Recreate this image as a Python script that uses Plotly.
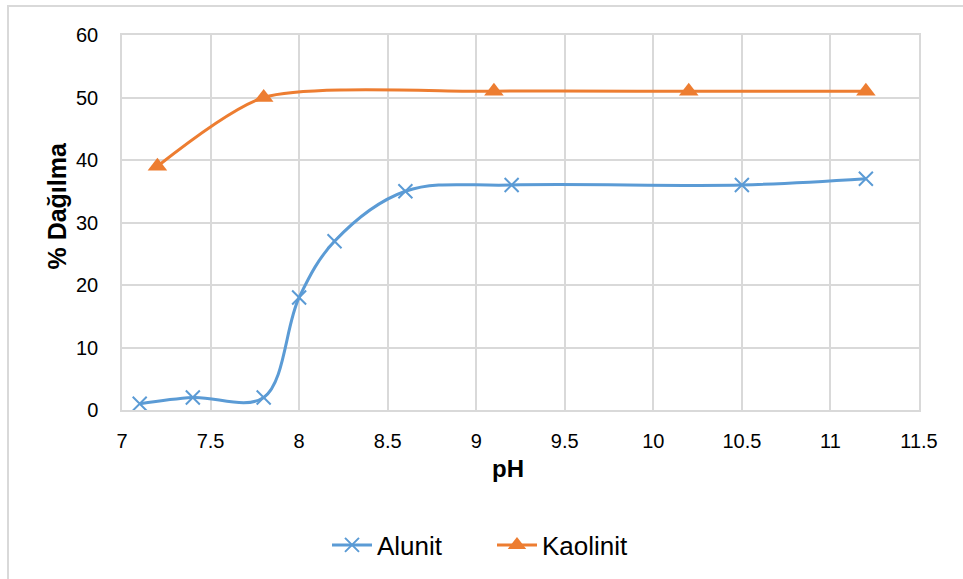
import plotly.graph_objects as go

# pH values and dispersion percentages for each mineral
alunit_ph = [7.1, 7.4, 7.8, 8.0, 8.2, 8.6, 9.2, 10.5, 11.2]
alunit_pct = [1, 2, 2, 18, 27, 35, 36, 36, 37]

kaolinit_ph = [7.2, 7.8, 9.1, 10.2, 11.2]
kaolinit_pct = [39, 50, 51, 51, 51]

x_ticks = [7, 7.5, 8, 8.5, 9, 9.5, 10, 10.5, 11, 11.5]
y_ticks = [0, 10, 20, 30, 40, 50, 60]

BLUE = "#5B9BD5"
ORANGE = "#ED7D31"
GRID = "#D9D9D9"
FONT = "Liberation Sans, Arial, sans-serif"

fig = go.Figure()
fig.add_trace(go.Scatter(
    x=alunit_ph, y=alunit_pct, name="Alunit",
    mode="lines+markers",
    line=dict(color=BLUE, width=3, shape="spline", smoothing=1.0),
    marker=dict(symbol="x-thin", size=14, line=dict(color=BLUE, width=2), color=BLUE),
))
fig.add_trace(go.Scatter(
    x=kaolinit_ph, y=kaolinit_pct, name="Kaolinit",
    mode="lines+markers",
    line=dict(color=ORANGE, width=3, shape="spline", smoothing=0.7),
    marker=dict(symbol="triangle-up", size=17, color=ORANGE),
))

L, R, T, B = 122, 44, 35, 168
W, H = 963, 579
pw, ph = W - L - R, H - T - B

def px_x(p):
    return (p - L) / pw

def px_y(p):
    return (H - B - p) / ph

fig.update_layout(
    width=W, height=H,
    margin=dict(l=L, r=R, t=T, b=B),
    paper_bgcolor="white", plot_bgcolor="white",
    font=dict(family=FONT, size=20, color="#000000"),
    showlegend=True,
    legend=dict(
        orientation="h", x=px_x(492), xanchor="center",
        y=px_y(545), yanchor="middle",
        font=dict(size=26, color="#000000"),
        itemwidth=40, entrywidth=110,
    ),
    xaxis=dict(
        range=[7, 11.5], tickvals=x_ticks, ticktext=[f"{v:g}" for v in x_ticks],
        showgrid=True, gridcolor=GRID, gridwidth=1.5,
        showline=True, linecolor=GRID, linewidth=1.5, mirror=True,
        zeroline=False, ticks="", ticklabelstandoff=12,
        tickfont=dict(size=20, family=FONT),
    ),
    yaxis=dict(
        range=[0, 60], tickvals=y_ticks,
        showgrid=True, gridcolor=GRID, gridwidth=1.5,
        showline=True, linecolor=GRID, linewidth=1.5, mirror=True,
        zeroline=False, ticks="", ticklabelstandoff=18,
        tickfont=dict(size=20, family=FONT),
    ),
    shapes=[dict(
        type="rect", xref="paper", yref="paper",
        x0=px_x(8), x1=px_x(990), y0=px_y(600), y1=px_y(6),
        line=dict(color=GRID, width=2), fillcolor="rgba(0,0,0,0)", layer="below",
    )],
    annotations=[
        dict(text="<b>pH</b>", xref="paper", yref="paper",
             x=px_x(508), y=px_y(470), xanchor="center", yanchor="middle",
             showarrow=False, font=dict(size=24, family=FONT, color="#000000")),
        dict(text="<b>% Dağılma</b>", xref="paper", yref="paper",
             x=px_x(57), y=px_y(206), xanchor="center", yanchor="middle",
             textangle=-90, showarrow=False,
             font=dict(size=25, family=FONT, color="#000000")),
    ],
)

fig.write_html("out.html")
